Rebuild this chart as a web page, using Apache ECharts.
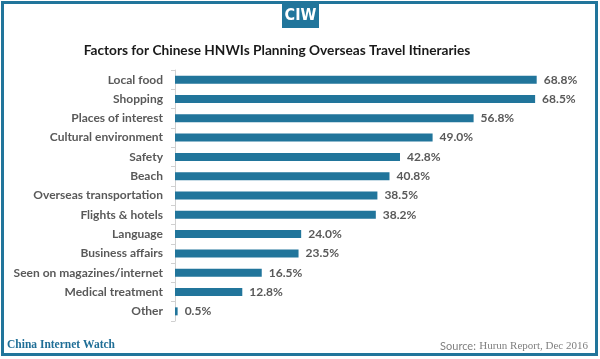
<!DOCTYPE html>
<html><head><meta charset="utf-8">
<script src="https://cdn.jsdelivr.net/npm/echarts@6/dist/echarts.min.js"></script>
<style>html,body{margin:0;padding:0;background:#fff}#c{width:600px;height:359px}</style>
</head><body><div id="c"></div>
<script>
const categories = ["Local food","Shopping","Places of interest","Cultural environment","Safety","Beach","Overseas transportation","Flights & hotels","Language","Business affairs","Seen on magazines/internet","Medical treatment","Other"];
const values = [68.8,68.5,56.8,49.0,42.8,40.8,38.5,38.2,24.0,23.5,16.5,12.8,0.5];
const titleText = "Factors for Chinese HNWIs Planning Overseas Travel Itineraries";
const sourceLabel = "Source:";
const sourceText = "Hurun Report, Dec 2016";
const brandText = "China Internet Watch";

const blue = '#21759b';
const chart = echarts.init(document.getElementById('c'), null, {renderer:'canvas'});
chart.setOption({
  animation:false,
  title:{text:titleText,left:272,textAlign:'center',top:39,textStyle:{fontFamily:'Lato',fontWeight:'bold',fontSize:13.7,color:'#1a1a1a'}},
  grid:{left:175,top:70,width:368,height:251,containLabel:false},
  xAxis:{type:'value',min:0,max:70,show:false},
  yAxis:{type:'category',data:categories,inverse:true,
    axisLine:{show:true,lineStyle:{color:'#d0d0d0',width:1}},
    axisTick:{show:true,length:4,lineStyle:{color:'#d0d0d0'}},
    axisLabel:{margin:12,fontFamily:'Lato',fontWeight:'bold',fontSize:12,color:'#595959'}},
  series:[{type:'bar',data:values,barWidth:8,itemStyle:{color:blue},
    label:{show:true,position:'right',distance:7,fontFamily:'Lato',fontWeight:'bold',fontSize:12,color:'#595959',
      formatter:p=>p.value.toFixed(1)+'%'}}],
  graphic:[
    {type:'rect',shape:{x:2.5,y:2.5,width:594,height:352},style:{fill:'none',stroke:blue,lineWidth:3}},
    {type:'rect',shape:{x:282,y:3,width:37,height:25},style:{fill:blue}},
    {type:'text',style:{text:'CIW',x:300.5,y:16,align:'center',verticalAlign:'middle',font:'bold 16px "Liberation Sans Narrow", "DejaVu Sans Condensed", sans-serif',fill:'#fff'}},
    {type:'text',style:{text:brandText,x:7,y:345,verticalAlign:'middle',font:'bold 11.5px "Liberation Serif", serif',fill:'#1f6e96'}},
    {type:'text',style:{text:'{a|'+sourceLabel+'} {b|'+sourceText+'}',x:588,y:346,align:'right',verticalAlign:'middle',
      rich:{a:{fontFamily:'Lato',fontSize:11,fill:'#808080',color:'#808080'},b:{fontFamily:'Liberation Serif',fontSize:11,color:'#808080',fill:'#808080'}}}}
  ]
});
</script></body></html>
